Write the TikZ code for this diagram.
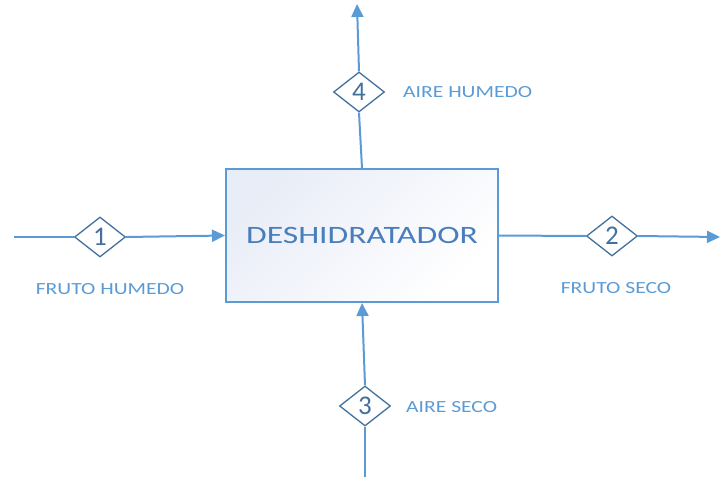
\documentclass[tikz,border=0pt]{standalone}
\usepackage{fontspec}
\usepackage{graphicx}
\setmainfont{Carlito}
\usetikzlibrary{shapes.geometric,arrows.meta}
\definecolor{linec}{RGB}{91,155,213}
\definecolor{boxtext}{RGB}{74,126,187}
\definecolor{dborder}{RGB}{65,113,156}
\definecolor{boxfill}{RGB}{233,237,247}
\newcommand\widetext[2]{\scalebox{#1}[1]{#2}}
\tikzset{
  flow/.style={draw=linec, line width=2pt},
  arr/.style={flow, -{Triangle[length=13pt,width=12pt]}},
  valve/.style={diamond, draw=dborder, line width=1.3pt, fill=white, inner sep=0pt, aspect=1.25,
    minimum width=51pt, minimum height=40pt, text=dborder, font=\fontsize{27}{27}\selectfont},
  lbl/.style={text=linec, font=\fontsize{17}{17}\selectfont, inner sep=0pt},
  unit/.style={draw=linec, line width=2pt, minimum width=272pt, minimum height=133pt, inner sep=0pt,
    shading=axis, top color=boxfill, bottom color=white, shading angle=45,
    text=boxtext, font=\fontsize{25}{25}\selectfont}
}
\begin{document}
\begin{tikzpicture}[x=1pt,y=-1pt]
\useasboundingbox (0,0) rectangle (720,477);
\node[unit] (box) at (362,235.5) {\widetext{1.345}{DESHIDRATADOR}};
\node[valve] (d1) at (100,237) {1};
\node[valve] (d2) at (612,236) {2};
\node[valve] (d3) at (365,406) {3};
\node[valve] (d4) at (359,92) {4};
\coordinate (in1) at (14,237);
\coordinate (out2) at (720,237);
\coordinate (in3) at (365,477);
\coordinate (out4) at (357,4);
\draw[flow] (in1) -- (d1.west);
\draw[arr] (d1.east) -- (box.west);
\draw[flow] (box.east) -- (d2.west);
\draw[arr] (d2.east) -- (out2);
\draw[flow] (in3) -- (d3.south);
\draw[arr] (d3.north) -- (box.south);
\draw[flow] (box.north) -- (d4.south);
\draw[arr] (d4.north) -- (out4);
\node[lbl, anchor=center] (l1) at (110,289) {\widetext{1.27}{FRUTO HUMEDO}};
\node[lbl, anchor=center] (l2) at (616,288) {\widetext{1.27}{FRUTO SECO}};
\node[lbl, anchor=west] (l3) at (406,407) {\widetext{1.27}{AIRE SECO}};
\node[lbl, anchor=west] (l4) at (403,92) {\widetext{1.27}{AIRE HUMEDO}};
\end{tikzpicture}
\end{document}
